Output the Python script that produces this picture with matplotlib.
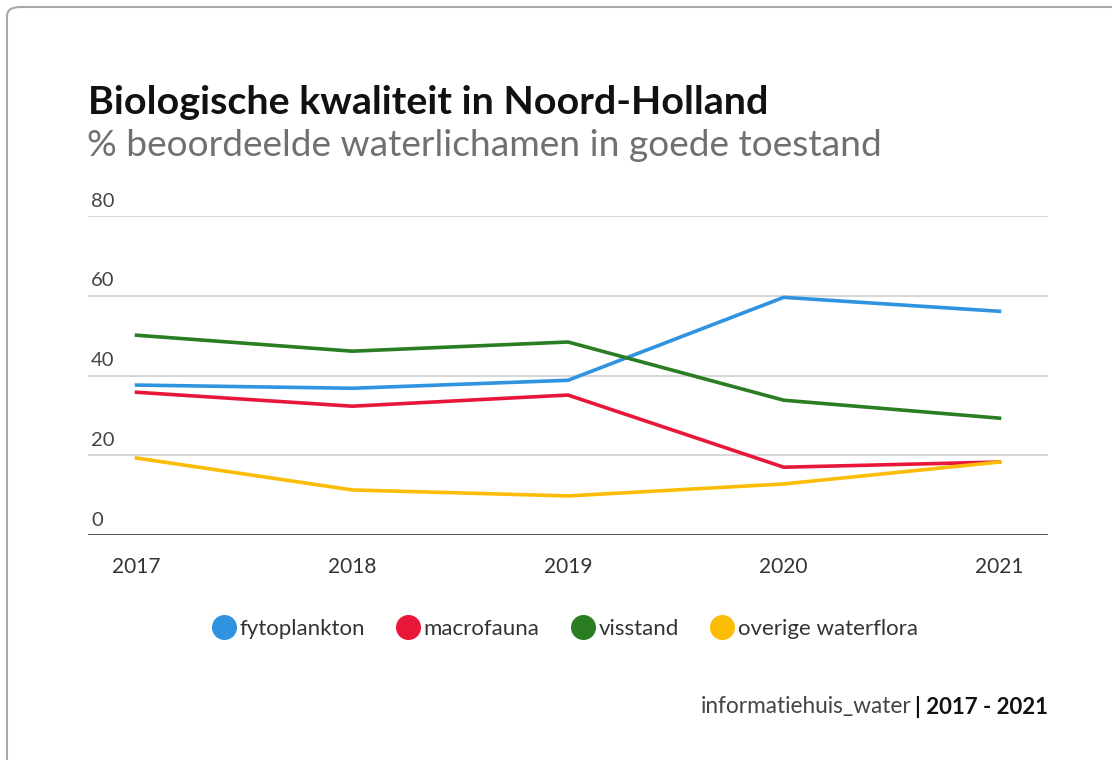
import matplotlib.pyplot as plt
from matplotlib.patches import FancyBboxPatch
from matplotlib.lines import Line2D

# data
years = [2017, 2018, 2019, 2020, 2021]
fytoplankton = [37.6, 36.8, 38.8, 59.6, 56.1]
macrofauna = [35.8, 32.3, 35.1, 17.0, 18.3]
visstand = [50.1, 46.1, 48.4, 33.8, 29.3]
overige_waterflora = [19.3, 11.3, 9.8, 12.8, 18.3]

series_names = ['fytoplankton', 'macrofauna', 'visstand', 'overige waterflora']
series_values = [fytoplankton, macrofauna, visstand, overige_waterflora]
series_colors = ['#2f93e0', '#e8173a', '#2a7d22', '#fbbc05']
y_ticks = [0, 20, 40, 60, 80]

plt.rcParams['font.family'] = ['Lato', 'DejaVu Sans']

W, H = 1112, 760
fig = plt.figure(figsize=(W / 100, H / 100), dpi=100)

# card border (only top/left visible in the crop)
card = FancyBboxPatch((7 / W, -0.1), 1.2, 1 - 7 / H + 0.1,
                      boxstyle='round,pad=0,rounding_size=0.012',
                      transform=fig.transFigure, facecolor='white',
                      edgecolor='#a8a8a8', linewidth=1.5, zorder=-10)
fig.patches.append(card)

ax = fig.add_axes([88 / W, 1 - 535 / H, (1048 - 88) / W, (535 - 216) / H])
ax.set_facecolor('none')

for vals, col in zip(series_values, series_colors):
    ax.plot(years, vals, color=col, linewidth=2.6, solid_joinstyle='round', zorder=3)

ax.set_xlim(2016.775, 2021.225)
ax.set_ylim(0, 80)

# gridlines + labels above them
for t in y_ticks:
    if t == 0:
        ax.axhline(t, color='#222222', linewidth=1.8, zorder=2)
    else:
        ax.axhline(t, color='#d3d3d3', linewidth=1.3, zorder=1)
    ax.text(0.003, t + 1.6, str(t), transform=ax.get_yaxis_transform(),
            fontsize=14.5, color='#444444', va='bottom', ha='left')

ax.set_yticks([])
ax.set_xticks(years)
ax.set_xticklabels([str(y) for y in years], fontsize=15, color='#333333')
ax.tick_params(axis='x', length=0, pad=16)
for s in ax.spines.values():
    s.set_visible(False)

# titles
fig.text(88 / W, 1 - 102 / H, 'Biologische kwaliteit in Noord-Holland',
         fontsize=28.4, fontweight='bold', color='#111111', va='center', ha='left')
fig.text(87 / W, 1 - 145 / H, '% beoordeelde waterlichamen in goede toestand',
         fontsize=26.7, fontweight='normal', color='#707070', va='center', ha='left')

# legend
handles = [Line2D([], [], marker='o', linestyle='', markersize=17,
                  markerfacecolor=c, markeredgecolor=c) for c in series_colors]
fig.legend(handles, series_names, loc='center', bbox_to_anchor=(565 / W, 1 - 629 / H),
           ncol=4, frameon=False, fontsize=16, handletextpad=0.2,
           columnspacing=1.45, labelcolor='#333333', handlelength=1.0)

# source line
fig.text(912 / W, 1 - 707 / H, 'informatiehuis_water', fontsize=16.3,
         color='#444444', ha='right', va='center')
fig.text(915 / W, 1 - 707 / H, '| 2017 - 2021', fontsize=16, fontweight='bold',
         color='#111111', ha='left', va='center')

fig.savefig('out.png', dpi=100)
